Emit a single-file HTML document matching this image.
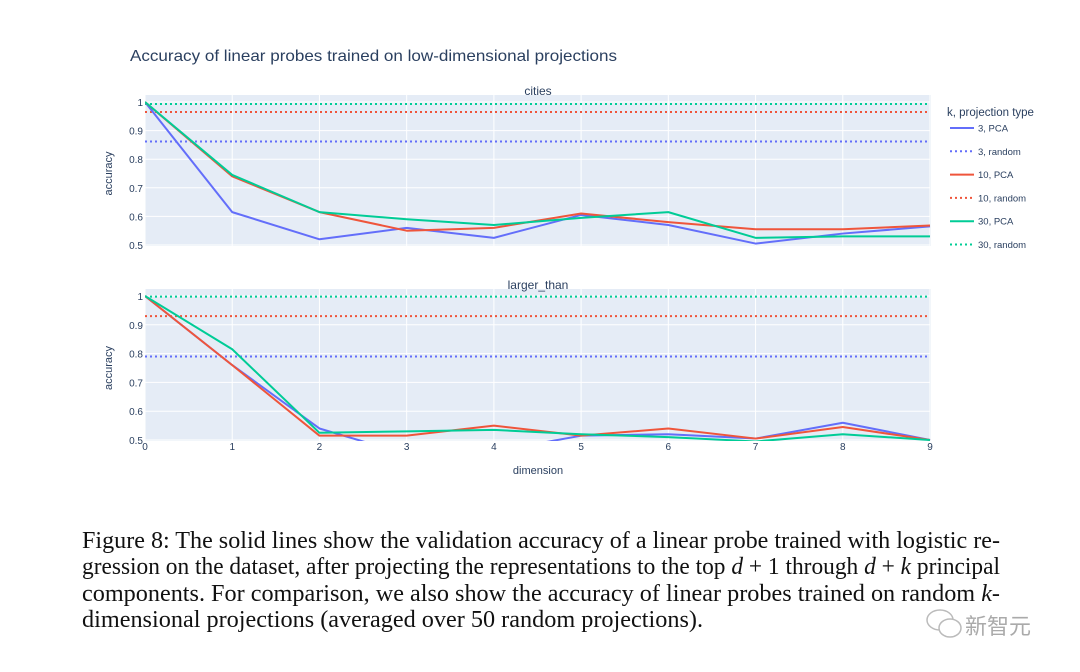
<!DOCTYPE html>
<html><head><meta charset="utf-8"><style>
html,body{margin:0;padding:0;background:#fff;width:1080px;height:672px;overflow:hidden}
svg{display:block}
.t{font-family:"Liberation Sans",sans-serif;fill:#2a3f5f}
.tick{font-family:"Liberation Sans",sans-serif;fill:#2a3f5f;font-size:10px}
.cap{font-family:"Liberation Serif",serif;font-size:24px;fill:#111}
</style></head><body>
<svg id="chart" width="1080" height="672" xmlns="http://www.w3.org/2000/svg">
<defs>
<clipPath id="c1"><rect x="145" y="95" width="786" height="151"/></clipPath>
<clipPath id="c2"><rect x="145" y="289" width="786" height="152"/></clipPath>
</defs>
<text class="t" x="130" y="61" font-size="16" textLength="487" lengthAdjust="spacingAndGlyphs">Accuracy of linear probes trained on low-dimensional projections</text>
<g id="plots"></g>
<g id="legend">
<text class="t" x="947" y="116" font-size="11.5">k, projection type</text>
</g>
<text class="t" x="538" y="474" font-size="11" text-anchor="middle">dimension</text>
<g>
<text class="cap" x="82" y="548" textLength="918" lengthAdjust="spacingAndGlyphs">Figure 8: The solid lines show the validation accuracy of a linear probe trained with logistic re-</text>
<text class="cap" x="82" y="574" textLength="918" lengthAdjust="spacingAndGlyphs">gression on the dataset, after projecting the representations to the top <tspan font-style="italic">d</tspan> + 1 through <tspan font-style="italic">d</tspan> + <tspan font-style="italic">k</tspan> principal</text>
<text class="cap" x="82" y="601" textLength="918" lengthAdjust="spacingAndGlyphs">components.  For comparison, we also show the accuracy of linear probes trained on random <tspan font-style="italic">k</tspan>-</text>
<text class="cap" x="82" y="627" textLength="621" lengthAdjust="spacingAndGlyphs">dimensional projections (averaged over 50 random projections).</text>
</g>
<g>
<ellipse cx="940" cy="620" rx="13" ry="10" fill="none" stroke="#bbb" stroke-width="1.5"/>
<ellipse cx="950" cy="628" rx="11" ry="9" fill="#fff" stroke="#bbb" stroke-width="1.5"/>
<text x="965" y="634" font-family="'Noto Sans CJK SC',sans-serif" font-size="22" fill="#aaa">新智元</text>
</g>
</svg>
<script>
const dims=[0,1,2,3,4,5,6,7,8,9];
const seriesNames=["3, PCA","10, PCA","30, PCA"];
const randomNames=["3, random","10, random","30, random"];
const colors=["#636efa","#ef553b","#00cc96"];
const yTicks=[0.5,0.6,0.7,0.8,0.9,1];
const yTickLabels=["0.5","0.6","0.7","0.8","0.9","1"];
const citiesPCA3=[1,0.615,0.52,0.56,0.525,0.605,0.57,0.505,0.54,0.565];
const citiesPCA10=[1,0.74,0.615,0.55,0.56,0.61,0.58,0.555,0.555,0.568];
const citiesPCA30=[1,0.745,0.615,0.59,0.57,0.595,0.615,0.525,0.53,0.53];
const citiesRandom=[0.862,0.965,0.993];
const largerPCA3=[1,0.76,0.54,0.45,0.46,0.515,0.52,0.505,0.56,0.5];
const largerPCA10=[1,0.76,0.515,0.515,0.55,0.515,0.54,0.505,0.545,0.5];
const largerPCA30=[1,0.815,0.525,0.53,0.535,0.52,0.51,0.495,0.52,0.5];
const largerRandom=[0.79,0.93,0.998];
const NS="http://www.w3.org/2000/svg";
const x0=145,x1=930;
const xs=d=>x0+(x1-x0)*d/9;
function mk(tag,attrs,parent){const e=document.createElementNS(NS,tag);for(const k in attrs)e.setAttribute(k,attrs[k]);parent.appendChild(e);return e;}
const root=document.getElementById('plots');
const panels=[
 {name:"cities",top:102,bot:245,pca:[citiesPCA3,citiesPCA10,citiesPCA30],rnd:citiesRandom,clip:"c1",xlabels:false},
 {name:"larger_than",top:296,bot:440,pca:[largerPCA3,largerPCA10,largerPCA30],rnd:largerRandom,clip:"c2",xlabels:true}
];
panels.forEach((p,pi)=>{
 const ys=v=>p.bot-(p.bot-p.top)*(v-0.5)/0.5;
 const g=mk('g',{},root);
 
 
 const bg=mk('rect',{x:x0,y:p.top-7,width:x1-x0+1,height:p.bot-p.top+8,fill:'#e5ecf6'},g);
 
 
 dims.forEach(d=>{
  const l=mk('line',{x1:xs(d),x2:xs(d),y1:p.top-7,y2:p.bot+1,stroke:'#fff','stroke-width':1},g);
  
  
  if(p.xlabels){
   const t=mk('text',{x:xs(d),y:p.bot+10,'text-anchor':'middle',class:'tick'},g);
   t.textContent=String(d);
   
   
  }
 });
 yTicks.forEach((v,i)=>{
  const l=mk('line',{x1:x0,x2:x1,y1:ys(v),y2:ys(v),stroke:'#fff','stroke-width':1},g);
  
  
  const t=mk('text',{x:x0-2,y:ys(v)+4,'text-anchor':'end',class:'tick'},g);
  t.textContent=yTickLabels[i];
  
  
 });
 const st=mk('text',{x:538,y:p.top-7,'text-anchor':'middle',class:'t','font-size':12},g);
 st.textContent=p.name;
 
 
 const ym=(p.top+p.bot)/2;
 const yt=mk('text',{x:112,y:ym,'text-anchor':'middle',class:'t','font-size':11,transform:`rotate(-90 112 ${ym})`},g);
 yt.textContent='accuracy';
 
 
 const cg=mk('g',{'clip-path':`url(#${p.clip})`},g);
 p.rnd.forEach((v,i)=>{
  const l=mk('line',{x1:x0,x2:x1,y1:ys(v),y2:ys(v),stroke:colors[i],'stroke-width':2,'stroke-dasharray':'2,3'},cg);
  
  
 });
 p.pca.forEach((arr,i)=>{
  const pts=arr.map((v,d)=>xs(dims[d])+','+ys(v)).join(' ');
  const l=mk('polyline',{points:pts,fill:'none',stroke:colors[i],'stroke-width':2,'stroke-linejoin':'round'},cg);
  
  
 });
});
const lg=document.getElementById('legend');
[0,1,2].forEach(i=>{
 [0,1].forEach(j=>{
  const y=128+(i*2+j)*23.3;
  const ln=mk('line',{x1:950,x2:974,y1:y,y2:y,stroke:colors[i],'stroke-width':2,'stroke-dasharray':j?'2,3':'none'},lg);
  
  
  const t=mk('text',{x:978,y:y+3.5,class:'t','font-size':9.5},lg);
  t.textContent=j?randomNames[i]:seriesNames[i];
  
  
 });
});
</script>
</body></html>
